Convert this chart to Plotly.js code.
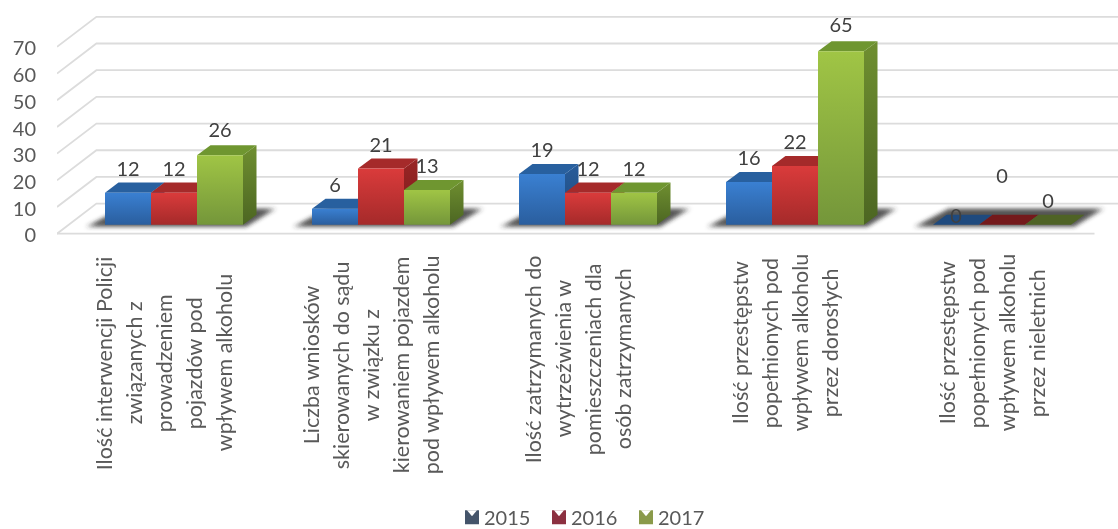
<!DOCTYPE html>
<html><head><meta charset="utf-8">
<script src="https://cdn.plot.ly/plotly-3.0.1.min.js"></script>
<style>html,body{margin:0;padding:0;background:#fff}#chart{width:1118px;height:529px;filter:blur(.45px)}</style>
</head><body><div id="chart"></div>
<script>
const categoryLines = [
  ["Ilość interwencji Policji","związanych z","prowadzeniem","pojazdów pod","wpływem alkoholu"],
  ["Liczba wniosków","skierowanych do sądu","w związku z","kierowaniem pojazdem","pod wpływem alkoholu"],
  ["Ilość zatrzymanych do","wytrzeźwienia w","pomieszczeniach dla","osób zatrzymanych"],
  ["Ilość przestępstw","popełnionych pod","wpływem alkoholu","przez dorosłych"],
  ["Ilość przestępstw","popełnionych pod","wpływem alkoholu","przez nieletnich"]
];
const seriesNames = ["2015","2016","2017"];
const values2015 = [12,6,19,16,0];
const values2016 = [12,21,12,22,0];
const values2017 = [26,13,12,65,0];
const yTicks = [0,10,20,30,40,50,60,70];

// ---- style ----
const W=1118,H=529, L=57, FLOOR=233.5, BELOW=2;
const PX=1/207, PY=1/2.667;            // data units per pixel
const BOTTOM=FLOOR+BELOW/PY;           // plot area runs slightly below the floor line
const X0=(162-L)*PX;                   // category 0 sits 105px right of the axis
const xRange=[-X0,(W-162)*PX], yRange=[-BELOW,FLOOR*PY];
const WALL_DX=39.4*PX, WALL_DY=30*PY, FRONT_END=4.505;
const BAR_DX=12*PX, BAR_BASE=9*PY, BAR_W=46*PX, SIDE_DX=13.5*PX, SIDE_DY=10*PY;
const frontTop=[['#3a80d2','#2a5e9e'],['#da3b3b','#a52a2a'],['#a0c545','#74963a']];
const topCol=['#28609f','#a52a2a','#6f9630'];
const sideGrad=[['#285c9a','#1f4a7e'],['#9a2525','#7a1c1c'],['#6f8f30','#4c6622']];
const zeroCol=['#1f4a7e','#74191b','#4f6326'];
const legendCol=['#44546a','#8c3040','#8a9a4a'];
const centers=[363,365,359,343,343];
const allValues=[values2015,values2016,values2017];
// label lift above the bar top, px (the zero labels of the last group were moved by hand in the source)
const lift=[[22,22,22,22,6.5],[22,22,22,22,46.5],[23,22,22,24,21.5]];
const TXT='#595959', FONT='Lato, Carlito, sans-serif';

const traces=[];
const poly=(pts,color)=>({type:'scatter',mode:'lines',x:pts.map(p=>p[0]),y:pts.map(p=>p[1]),
  fill:'toself',fillcolor:color,line:{width:0},hoverinfo:'skip',showlegend:false});

// walls and floor grid
const gx=[],gy=[];
yTicks.forEach(t=>{
  gx.push(-X0,-X0+WALL_DX,FRONT_END+WALL_DX+.2,null);
  gy.push(t,t+WALL_DY,t+WALL_DY,null);
});
gx.push(-X0,FRONT_END);gy.push(0,0);
traces.push({type:'scatter',mode:'lines',x:gx,y:gy,line:{color:'#dcdcdc',width:1.8},hoverinfo:'skip',showlegend:false,cliponaxis:false});

// floor shadows
const shadowIdx=[];
categoryLines.forEach((c,i)=>{
  const a=i+BAR_DX-1.5*BAR_W,b=i+BAR_DX+1.5*BAR_W;
  [0,6].forEach(k=>{
    const ins=k*PX,vi=k*.2*PY;
    shadowIdx.push(traces.length);
    traces.push(poly([[a-19*PX+ins,BAR_BASE-2*PY+vi],[b+3*PX,BAR_BASE-2*PY+vi],
      [b+33*PX-ins,BAR_BASE+16*PY-vi],[a+16*PX,BAR_BASE+16*PY-vi],[a-19*PX+ins,BAR_BASE-2*PY+vi]],'rgba(50,50,50,0.6)'));
  });
});

// top and side faces, left to right
const sideIdx=[];
categoryLines.forEach((c,i)=>{
  allValues.forEach((vals,s)=>{
    const v=vals[i], xl=i+BAR_DX+(s-1.5)*BAR_W, xr=xl+BAR_W, t=BAR_BASE+v, B=BAR_BASE;
    if(v>0){ sideIdx.push([traces.length,s]);
      traces.push(poly([[xr,t],[xr+SIDE_DX,t+SIDE_DY],[xr+SIDE_DX,B+SIDE_DY],[xr,B],[xr,t]],sideGrad[s][0])); }
    traces.push(poly([[xl,t],[xr,t],[xr+SIDE_DX,t+SIDE_DY],[xl+SIDE_DX,t+SIDE_DY],[xl,t]],v>0?topCol[s]:zeroCol[s]));
  });
});

// front faces
allValues.forEach((vals,s)=>{
  traces.push({type:'bar',name:seriesNames[s],x:vals.map((_,i)=>i+BAR_DX),y:vals,base:BAR_BASE,
    xaxis:'x2',yaxis:'y2',marker:{color:legendCol[s],line:{width:0}},hoverinfo:'skip'});
});

// data labels
const lx=[],ly=[],lt=[];
allValues.forEach((vals,s)=>vals.forEach((v,i)=>{
  lx.push(i+BAR_DX+(s-1)*BAR_W); ly.push(BAR_BASE+v+lift[s][i]*PY); lt.push(String(v));
}));
traces.push({type:'scatter',mode:'text',x:lx,y:ly,text:lt,textposition:'middle center',xaxis:'x2',yaxis:'y2',
  textfont:{family:FONT,size:20,color:'#404040'},hoverinfo:'skip',showlegend:false,cliponaxis:false});

// wrapped category labels
const annotations=[];
categoryLines.forEach((lines,i)=>lines.forEach((line,j)=>{
  annotations.push({xref:'x',yref:'paper',x:i,y:(BOTTOM-centers[i])/BOTTOM,xanchor:'center',yanchor:'middle',
    xshift:(j-(lines.length-1)/2)*30+2,text:line,textangle:-90,showarrow:false,
    font:{family:FONT,size:21.5,color:TXT}});
}));

const layout={
  width:W,height:H,margin:{l:L,r:0,t:0,b:H-BOTTOM,pad:0,autoexpand:false},paper_bgcolor:'#fff',plot_bgcolor:'rgba(0,0,0,0)',
  showlegend:true,barmode:'group',bargap:1-3*BAR_W,bargroupgap:0,hovermode:false,
  xaxis:{range:xRange,showgrid:false,zeroline:false,showline:false,showticklabels:false,ticks:''},
  yaxis:{range:yRange,tickvals:yTicks.map(t=>t-.6),ticktext:yTicks.map(String),showgrid:false,zeroline:false,showline:false,ticks:'',
    ticklabelstandoff:20,tickfont:{family:FONT,size:20,color:TXT}},
  xaxis2:{range:xRange,overlaying:'x',visible:false},
  yaxis2:{range:yRange,overlaying:'y',visible:false},
  legend:{orientation:'h',xref:'paper',yref:'paper',x:(444-L)/(W-L),xanchor:'left',y:(BOTTOM-517)/BOTTOM,yanchor:'middle',
    font:{family:FONT,size:20,color:TXT},itemwidth:30,entrywidth:42,entrywidthmode:'pixels',bgcolor:'rgba(0,0,0,0)',tracegap:0,itemclick:false,itemdoubleclick:false},
  annotations
};

Plotly.newPlot('chart',traces,layout,{displayModeBar:false,staticPlot:true}).then(gd=>{
  const NS='http://www.w3.org/2000/svg', defs=gd.querySelector('svg.main-svg defs');
  const addGrad=(id,c)=>{
    const g=document.createElementNS(NS,'linearGradient');
    g.setAttribute('id',id);g.setAttribute('x1','0');g.setAttribute('y1','0');g.setAttribute('x2','0');g.setAttribute('y2','1');
    c.forEach((col,k)=>{const st=document.createElementNS(NS,'stop');st.setAttribute('offset',k);st.setAttribute('stop-color',col);g.appendChild(st);});
    defs.appendChild(g);
  };
  frontTop.forEach((c,s)=>addGrad('front'+s,c));
  sideGrad.forEach((c,s)=>addGrad('side'+s,c));
  // soft edge for the floor shadows
  const f=document.createElementNS(NS,'filter');
  f.setAttribute('id','soft');f.setAttribute('x','-30%');f.setAttribute('y','-60%');f.setAttribute('width','160%');f.setAttribute('height','220%');
  const b=document.createElementNS(NS,'feGaussianBlur');b.setAttribute('stdDeviation','2.2');f.appendChild(b);defs.appendChild(f);

  gd.querySelectorAll('.barlayer .trace').forEach((tr,s)=>{
    tr.querySelectorAll('.point path').forEach(p=>{p.style.fill='url(#front'+s+')';});
  });
  const sc=gd.querySelector('.subplot.xy .scatterlayer').children;
  shadowIdx.forEach(k=>{const p=sc[k]&&sc[k].querySelector('.js-fill');if(p)p.setAttribute('filter','url(#soft)');});
  sideIdx.forEach(([k,s])=>{const p=sc[k]&&sc[k].querySelector('.js-fill');if(p)p.style.fill='url(#side'+s+')';});

  // legend keys carry a small white notch
  gd.querySelectorAll('.legend .traces').forEach(tr=>{
    const lp=tr.querySelector('.legendpoints path');
    if(lp){
      lp.setAttribute('d','M7,7H-7V-7H7Z');lp.setAttribute('transform','translate(28,0)');
      const n=document.createElementNS(NS,'path');
      n.setAttribute('d','M-5,-7H5L0,-1Z');n.setAttribute('fill','#fff');n.setAttribute('transform','translate(28,0)');
      lp.parentNode.appendChild(n);
    }
  });
});
</script></body></html>
